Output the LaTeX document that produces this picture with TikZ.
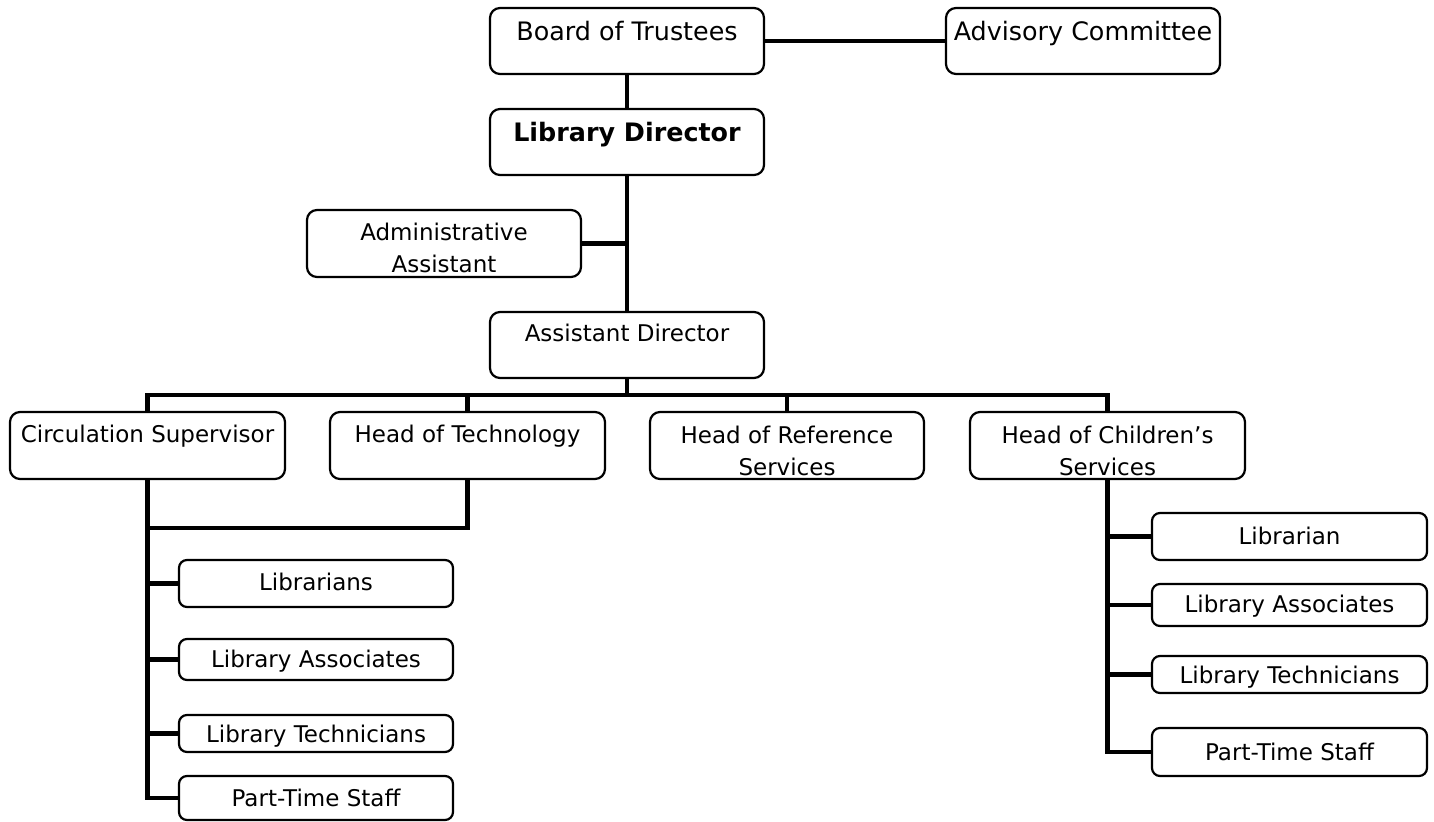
\documentclass[tikz,border=0pt]{standalone}
\usepackage{fontspec}
\setmainfont{DejaVu Sans}
\usetikzlibrary{fit}
\begin{document}
\begin{tikzpicture}[x=0.5pt,y=-0.5pt,
  box/.style={draw=black, line width=1.1pt, rounded corners=5pt, fill=white, inner sep=0pt},
  subbox/.style={box, rounded corners=4pt},
  bigtxt/.style={font=\fontsize{12.7}{16}\selectfont, inner sep=0pt},
  smalltxt/.style={font=\fontsize{11.5}{16}\selectfont, inner sep=0pt, align=center},
  link/.style={line width=2.2pt}]
\useasboundingbox (0,0) rectangle (1434,822);

% ---- boxes ----
\node[box, fit={(490,8)(764,74)}]     (bt) {};
\node[box, fit={(946,8)(1220,74)}]    (ac) {};
\node[box, fit={(490,109)(764,175)}]  (ld) {};
\node[box, fit={(307,210)(581,277)}]  (aa) {};
\node[box, fit={(490,312)(764,378)}]  (ad) {};
\node[box, fit={(10,412)(285,479)}]   (cs) {};
\node[box, fit={(330,412)(605,479)}]  (ht) {};
\node[box, fit={(650,412)(924,479)}]  (hr) {};
\node[box, fit={(970,412)(1245,479)}] (hc) {};
% circulation / technology staff
\node[subbox, fit={(179,560)(453,607)}] (l1) {};
\node[subbox, fit={(179,639)(453,680)}] (l2) {};
\node[subbox, fit={(179,715)(453,752)}] (l3) {};
\node[subbox, fit={(179,776)(453,820)}] (l4) {};
% children's services staff
\node[subbox, fit={(1152,513)(1427,560)}] (r1) {};
\node[subbox, fit={(1152,584)(1427,626)}] (r2) {};
\node[subbox, fit={(1152,656)(1427,693)}] (r3) {};
\node[subbox, fit={(1152,728)(1427,776)}] (r4) {};

% ---- labels ----
\node[bigtxt, anchor=base] (bt-t) at (627,41) {Board of Trustees};
\node[bigtxt, anchor=base] (ac-t) at (1083,41) {Advisory Committee};
\node[bigtxt, anchor=base, font=\fontsize{12.7}{16}\selectfont\bfseries] (ld-t) at (627,142) {Library Director};
\node[smalltxt, anchor=north] (aa-t) at (444,222.5) {Administrative\\Assistant};
\node[smalltxt, anchor=base] (ad-t) at (627,342) {Assistant Director};
\node[smalltxt, anchor=base] (cs-t) at (147.5,443) {Circulation Supervisor};
\node[smalltxt, anchor=base] (ht-t) at (467.5,443) {Head of Technology};
\node[smalltxt, anchor=north] (hr-t) at (787,425.5) {Head of Reference\\Services};
\node[smalltxt, anchor=north] (hc-t) at (1107.5,425.5) {Head of Children’s\\Services};
\node[smalltxt, anchor=base] (l1-t) at (316,591) {Librarians};
\node[smalltxt, anchor=base] (l2-t) at (316,668) {Library Associates};
\node[smalltxt, anchor=base] (l3-t) at (316,742) {Library Technicians};
\node[smalltxt, anchor=base] (l4-t) at (316,806) {Part-Time Staff};
\node[smalltxt, anchor=base] (r1-t) at (1289.5,545) {Librarian};
\node[smalltxt, anchor=base] (r2-t) at (1289.5,613) {Library Associates};
\node[smalltxt, anchor=base] (r3-t) at (1289.5,683) {Library Technicians};
\node[smalltxt, anchor=base] (r4-t) at (1289.5,760) {Part-Time Staff};

% ---- connectors ----
\coordinate (bus) at (627,395);
\coordinate (join) at (147.5,528);
\draw[link] (bt.east) -- (ac.west);
\draw[link] (bt.south) -- (ld.north);
\draw[link] (ld.south) -- (ad.north);
\draw[link] (aa.east) -- (aa.east -| ld.south);
\draw[link] (ad.south) -- (bus);
\draw[link] (cs.north) -- (cs.north |- bus) -- (hc.north |- bus) -- (hc.north);
\draw[link] (ht.north) -- (ht.north |- bus);
\draw[link] (hr.north) -- (hr.north |- bus);
% staff under circulation and technology
\draw[link] (ht.south) -- (ht.south |- join) -- (join);
\draw[link] (cs.south) -- (cs.south |- l4.west) -- (l4.west);
\draw[link] (l1.west) -- (l1.west -| cs.south);
\draw[link] (l2.west) -- (l2.west -| cs.south);
\draw[link] (l3.west) -- (l3.west -| cs.south);
% staff under children's services
\draw[link] (hc.south) -- (hc.south |- r4.west) -- (r4.west);
\draw[link] (r1.west) -- (r1.west -| hc.south);
\draw[link] (r2.west) -- (r2.west -| hc.south);
\draw[link] (r3.west) -- (r3.west -| hc.south);
\end{tikzpicture}
\end{document}
